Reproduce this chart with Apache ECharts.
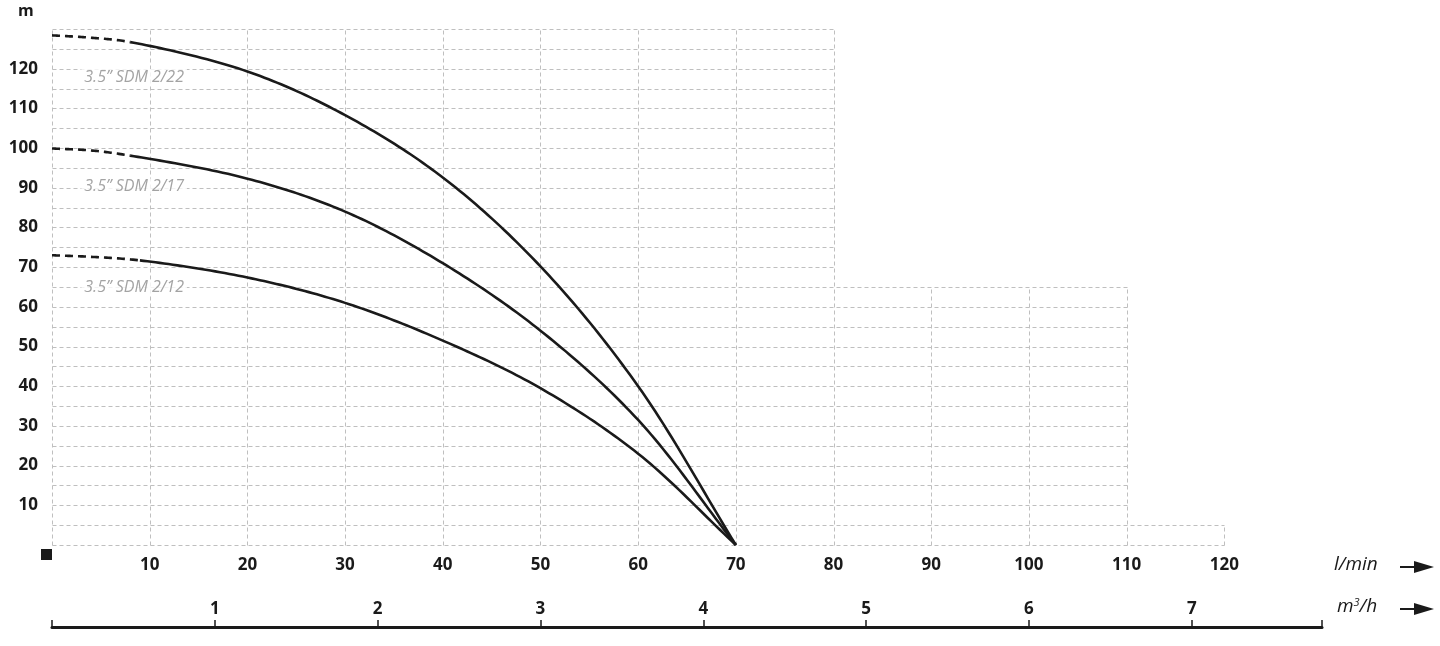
<!DOCTYPE html>
<html><head><meta charset="utf-8">
<script src="https://cdn.jsdelivr.net/npm/echarts@6/dist/echarts.min.js"></script>
<style>html,body{margin:0;padding:0;background:#fff}#c{width:1440px;height:646px}</style>
</head><body><div id="c"></div>
<script>
// ---- data ----
const flowLabels = [10,20,30,40,50,60,70,80,90,100,110,120];      // l/min tick labels
const headLabels = [10,20,30,40,50,60,70,80,90,100,110,120];      // m tick labels
const m3hLabels = [1,2,3,4,5,6,7];                                // m3/h tick labels
const curveNames = ['3.5\u201D SDM 2/22','3.5\u201D SDM 2/17','3.5\u201D SDM 2/12'];
// dashed start (0..dashEnd) then solid
const q22 = [0, 4, 8, 20, 30, 40, 50, 60, 70];
const h22 = [128.4, 127.8, 126.7, 119.3, 108.3, 92.6, 70.2, 40, 0];
const q17 = [0, 4, 8, 20, 30, 40, 50, 60, 70];
const h17 = [99.9, 99.4, 98.1, 92.3, 84.0, 71.0, 54.0, 31.5, 0];
const q12 = [0, 4, 9, 20, 30, 40, 50, 60, 70];
const h12 = [73.0, 72.6, 71.7, 67.4, 61.0, 51.5, 39.5, 23, 0];
const dashEnd = 2; // index where dashed part ends
// label anchor points (l/min, m)
const labelQ = [3.0, 3.0, 3.0];
const labelH = [117.9, 90.3, 64.8];
// stepped grid extents: [fromQ, toQ, topHead]
const gridBands = [[0, 80, 130], [80, 110, 65], [110, 120, 5]];

const curves = [[q22, h22], [q17, h17], [q12, h12]];

// centripetal Catmull-Rom through pixel points
function spline(pts, n) {
  const P = [[2 * pts[0][0] - pts[1][0], 2 * pts[0][1] - pts[1][1]], ...pts,
    [2 * pts[pts.length - 1][0] - pts[pts.length - 2][0], 2 * pts[pts.length - 1][1] - pts[pts.length - 2][1]]];
  const segs = [];
  const d = (a, b) => Math.pow(Math.hypot(b[0] - a[0], b[1] - a[1]), 0.5) || 1e-6;
  const lerp = (a, b, ta, tb, t) => [
    ((tb - t) * a[0] + (t - ta) * b[0]) / (tb - ta),
    ((tb - t) * a[1] + (t - ta) * b[1]) / (tb - ta)];
  for (let i = 1; i < P.length - 2; i++) {
    const p0 = P[i - 1], p1 = P[i], p2 = P[i + 1], p3 = P[i + 2];
    const t0 = 0, t1 = t0 + d(p0, p1), t2 = t1 + d(p1, p2), t3 = t2 + d(p2, p3);
    const seg = [];
    for (let k = 0; k <= n; k++) {
      const t = t1 + (t2 - t1) * k / n;
      const A1 = lerp(p0, p1, t0, t1, t), A2 = lerp(p1, p2, t1, t2, t), A3 = lerp(p2, p3, t2, t3, t);
      const B1 = lerp(A1, A2, t0, t2, t), B2 = lerp(A2, A3, t1, t3, t);
      seg.push(lerp(B1, B2, t1, t2, t));
    }
    segs.push(seg);
  }
  return segs;
}

const series = [];
// grid custom series
series.push({
  type: 'custom', silent: true, z: 0, data: [[0, 0]],
  renderItem: function (params, api) {
    const ch = [];
    const st = {stroke: '#bfbfbf', lineWidth: 1, lineDash: [4, 3]};
    const r = v => Math.round(v) + 0.5;
    const topAt = x => Math.max(...gridBands.filter(b => x >= b[0] && x <= b[1]).map(b => b[2]));
    for (let x = 0; x <= 120; x += 10) {
      const p0 = api.coord([x, 0]), p1 = api.coord([x, topAt(x)]);
      ch.push({type: 'line', shape: {x1: r(p0[0]), y1: r(p0[1]), x2: r(p1[0]), y2: r(p1[1])}, style: st});
    }
    for (let y = 0; y <= 130; y += 5) {
      const xs = gridBands.filter(b => b[2] >= y).map(b => b[1]);
      const xe = Math.max(...xs);
      const p0 = api.coord([0, y]), p1 = api.coord([xe, y]);
      ch.push({type: 'line', shape: {x1: r(p0[0]), y1: r(p0[1]), x2: r(p1[0]), y2: r(p1[1])}, style: st});
    }
    return {type: 'group', children: ch};
  }
});
curves.forEach((c, ci) => {
  series.push({
    type: 'custom', name: curveNames[ci], silent: true, z: 3, clip: false,
    data: c[0].map((q, i) => [q, c[1][i]]),
    renderItem: function (params, api) {
      if (params.dataIndex !== 0) return null;
      const pts = c[0].map((q, i) => api.coord([q, c[1][i]]));
      const segs = spline(pts, 24);
      const dashPts = [], solidPts = [];
      segs.forEach((s, i) => {
        const tgt = i < dashEnd ? dashPts : solidPts;
        s.forEach((p, k) => { if (k > 0 || tgt.length === 0) tgt.push(p); });
      });
      return {type: 'group', children: [
        {type: 'polyline', shape: {points: dashPts}, style: {stroke: '#1a1a1a', lineWidth: 2.6, fill: null, lineDash: [8, 5]}},
        {type: 'polyline', shape: {points: solidPts}, style: {stroke: '#1a1a1a', lineWidth: 2.6, fill: null, lineJoin: 'round'}}
      ]};
    }
  });
});
// curve name labels
series.push({
  type: 'scatter', silent: true, z: 4, symbolSize: 0,
  data: curveNames.map((n, i) => ({name: n, value: [labelQ[i], labelH[i]]})),
  label: {show: true, position: 'right', distance: 0, formatter: p => p.name,
    color: '#8c8c8c', fontStyle: 'italic', fontSize: 16, fontFamily: 'Open Sans',
    backgroundColor: '#fff', padding: [0, 3]}
});
// origin square
series.push({
  type: 'scatter', silent: true, z: 4, data: [[0, 0]], symbol: 'rect', symbolSize: 11,
  symbolOffset: [-5.5, 9.5], itemStyle: {color: '#1a1a1a', opacity: 1}
});

const lblStyle = {color: '#1a1a1a', fontWeight: 'bold', fontSize: 17, fontFamily: 'Open Sans'};
const option = {
  animation: false,
  backgroundColor: '#fff',
  grid: {left: 52, right: 118, top: 29, bottom: 101},
  xAxis: [{
    type: 'value', min: 0, max: 130, interval: 10,
    axisLine: {show: false}, axisTick: {show: false}, splitLine: {show: false},
    axisLabel: Object.assign({margin: 12, formatter: v => flowLabels.includes(v) ? String(v) : ''}, lblStyle)
  }, {
    type: 'value', min: 0, max: 7.8, interval: 1, position: 'bottom', offset: 82,
    axisLine: {show: true, lineStyle: {color: '#1a1a1a', width: 3}},
    axisTick: {show: true, inside: true, length: 7, lineStyle: {color: '#1a1a1a', width: 1.5}},
    splitLine: {show: false},
    axisLabel: Object.assign({inside: true, margin: 9, formatter: v => m3hLabels.includes(v) ? String(v) : ''}, lblStyle)
  }],
  yAxis: {
    type: 'value', min: 0, max: 130, interval: 10,
    axisLine: {show: false}, axisTick: {show: false}, splitLine: {show: false},
    axisLabel: Object.assign({margin: 14, formatter: v => headLabels.includes(v) ? String(v) : ''}, lblStyle)
  },
  graphic: [
    {type: 'text', left: 18, top: 3, style: {text: 'm', fill: '#1a1a1a', font: 'bold 16px "Open Sans"'}},
    {type: 'text', left: 1334, top: 555, style: {text: 'l/min', fill: '#1a1a1a', font: 'italic 19px "Open Sans"'}},
    {type: 'line', shape: {x1: 1400, y1: 567, x2: 1418, y2: 567}, style: {stroke: '#1a1a1a', lineWidth: 2}},
    {type: 'polygon', shape: {points: [[1414, 561], [1434, 567], [1414, 573]]}, style: {fill: '#1a1a1a'}},
    {type: 'text', left: 1337, top: 597, style: {text: 'm{s|3}/h', fill: '#1a1a1a', font: 'italic 19px "Open Sans"',
      rich: {s: {fontSize: 11, fontStyle: 'italic', fontFamily: 'Open Sans', verticalAlign: 'top', padding: [0, 0, 9, 0], fill: '#1a1a1a'}}}},
    {type: 'line', shape: {x1: 1400, y1: 609, x2: 1418, y2: 609}, style: {stroke: '#1a1a1a', lineWidth: 2}},
    {type: 'polygon', shape: {points: [[1414, 603], [1434, 609], [1414, 615]]}, style: {fill: '#1a1a1a'}}
  ],
  series: series
};
const chart = echarts.init(document.getElementById('c'), null, {renderer: 'canvas'});
chart.setOption(option);
</script></body></html>
